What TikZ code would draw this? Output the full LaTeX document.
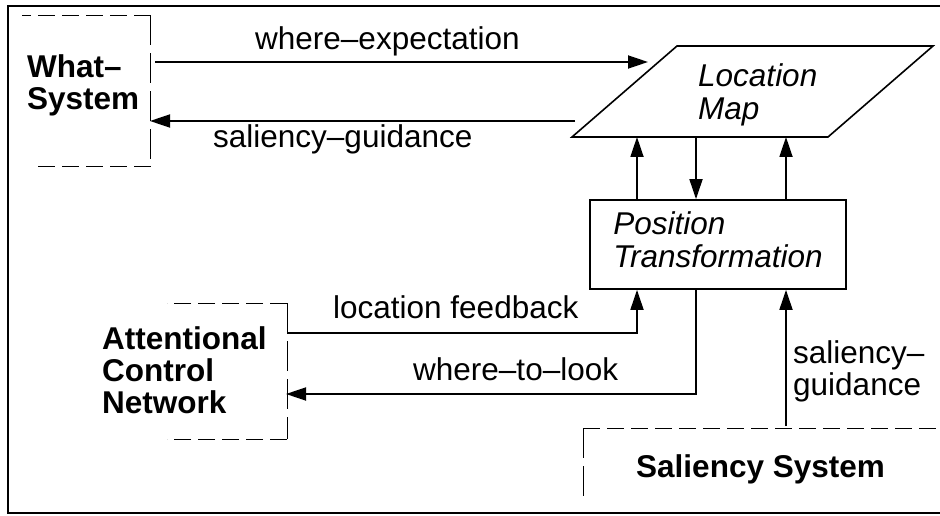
\documentclass[tikz,border=0pt]{standalone}
\usepackage{fontspec}
\setmainfont{Liberation Sans}
\usetikzlibrary{arrows.meta}
\newcommand{\lns}[1]{\begin{tabular}[t]{@{}l@{}}#1\end{tabular}}
\begin{document}
\begin{tikzpicture}[x=1pt,y=-1pt,
  txt/.style={inner sep=0pt, anchor=base west, font=\fontsize{31.5}{32}\selectfont},
  bld/.style={inner sep=0pt, anchor=base west, font=\fontsize{31.5}{32}\selectfont\bfseries},
  itl/.style={inner sep=0pt, anchor=base west, font=\fontsize{31.5}{32.5}\selectfont\itshape},
  arr/.style={line width=1.8pt, -{Triangle[length=20pt,width=13pt]}},
  dshh/.style={line width=1pt, dash pattern=on 17pt off 7pt},
  dshv/.style={line width=1pt, dash pattern=on 30pt off 8pt},
]
\useasboundingbox (0,0) rectangle (940,516);
\fill[white] (0,0) rectangle (940,516);
\draw[line width=2pt] (942,6) -- (8,6) -- (8,513) -- (942,513);

% dashed open boxes
\draw[dshh] (150.5,15.5) -- (22,15.5);
\draw[dshv] (150.5,15.5) -- (150.5,167);
\draw[dshh] (150.5,167) -- (35,167);
\draw[dshh] (287,303) -- (167,303);
\draw[dshv] (287,303) -- (287,439);
\draw[dshh] (287,439) -- (167,439);
\draw[dshv] (583,428) -- (583,502);
\draw[dshh] (583,428) -- (942,428);

% location map parallelogram
\coordinate (mTL) at (677,46);
\coordinate (mTR) at (933,46);
\coordinate (mBR) at (828,137);
\coordinate (mBL) at (572,137);
\draw[line width=1.6pt, line join=miter] (mTL) -- (mTR) -- (mBR) -- (mBL) -- cycle;
\node[itl] (map) at (698,87) {\lns{Location\\Map}};

% position transformation
\node[draw, line width=1.8pt, minimum width=256pt, minimum height=89pt, inner sep=0pt,
      font=\fontsize{31.5}{33}\selectfont\itshape] (pt) at (718,244.5)
      {\lns{Position\\Transformation}};

% system labels
\node[bld] (ws) at (27,78) {\lns{What\textendash\\System}};
\node[bld] (acn) at (102,349) {\lns{Attentional\\Control\\Network}};
\node[bld] (ss) at (636,477) {Saliency System};

% connector labels
\node[txt] (lwe) at (255,50) {where\textendash expectation};
\node[txt] (lsg) at (213,148) {saliency\textendash guidance};
\node[txt] (llf) at (333,318) {location feedback};
\node[txt] (lwl) at (413,380) {where\textendash to\textendash look};
\node[txt] (lsg2) at (793,363) {\lns{saliency\textendash\\guidance}};

% helper coordinates
\coordinate (xa) at (637,0);
\coordinate (xb) at (696,0);
\coordinate (xc) at (786,0);
\coordinate (weS) at (155,62);
\coordinate (weE) at (648,62);
\coordinate (sgS) at (575,121);
\coordinate (sgE) at (150,121);
\coordinate (lfS) at (287,333);
\coordinate (wtE) at (286,394);
\coordinate (ssT) at (786,426);

% connectors
\draw[arr] (weS) -- (weE);
\draw[arr] (sgS) -- (sgE);
\draw[arr] (pt.north -| xa) -- (mBL -| xa);
\draw[arr] (mBL -| xb) -- (pt.north -| xb);
\draw[arr] (pt.north -| xc) -- (mBL -| xc);
\draw[arr] (lfS) -- (lfS -| xa) -- (pt.south -| xa);
\draw[arr] (pt.south -| xb) |- (wtE);
\draw[arr] (ssT) -- (pt.south -| xc);
\end{tikzpicture}
\end{document}
